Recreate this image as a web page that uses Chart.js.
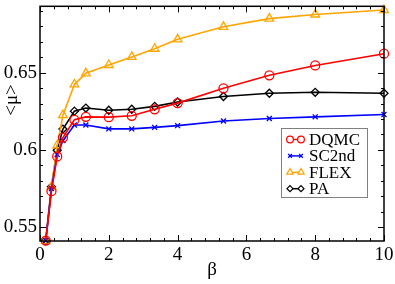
<!DOCTYPE html>
<html>
<head>
<meta charset="utf-8">
<script src="https://cdn.jsdelivr.net/npm/chart.js@4/dist/chart.umd.min.js"></script>
<style>
  html, body { margin: 0; padding: 0; background: #fff; }
  #wrap { width: 395px; height: 284px; }
</style>
</head>
<body>
<div id="wrap"><canvas id="c" width="395" height="284"></canvas></div>
<script>
// beta values and <mu> for each method
var beta  = [0.167, 0.333, 0.5, 0.667, 1, 1.333, 2, 2.667, 3.333, 4, 5.333, 6.667, 8, 10];
var dqmc  = [0.5413, 0.5733, 0.5958, 0.6080, 0.6195, 0.6214, 0.6212, 0.6221, 0.6263, 0.6303, 0.6399, 0.6483, 0.6547, 0.6623];
var sc2nd = [0.5413, 0.5750, 0.5970, 0.6060, 0.6161, 0.6161, 0.6136, 0.6136, 0.6146, 0.6157, 0.6187, 0.6203, 0.6214, 0.6229];
var flex  = [0.5413, 0.5760, 0.6030, 0.6225, 0.6424, 0.6496, 0.6550, 0.6602, 0.6655, 0.6716, 0.6797, 0.6850, 0.6877, 0.6906];
var pa    = [0.5413, 0.5761, 0.5998, 0.6135, 0.6251, 0.6271, 0.6257, 0.6263, 0.6282, 0.6310, 0.6346, 0.6367, 0.6373, 0.6367];

var xTicks = [0, 2, 4, 6, 8, 10];
var yTicks = [0.55, 0.6, 0.65];
var yLabels = ["0.55", "0.6", "0.65"];

var FONT = "'Liberation Serif', 'Times New Roman', serif";

function pts(ys) {
  var out = [];
  for (var i = 0; i < beta.length; i++) out.push({x: beta[i], y: ys[i]});
  return out;
}

var series = [
  {label: "DQMC",  data: dqmc,  color: "#ff0000", style: "circle",   r: 4.5},
  {label: "SC2nd", data: sc2nd, color: "#0000ff", style: "crossRot", r: 3.5},
  {label: "FLEX",  data: flex,  color: "#ffa500", style: "triangle", r: 5},
  {label: "PA",    data: pa,    color: "#000000", style: "rectRot",  r: 4}
];

var datasets = series.map(function (s) {
  return {
    label: s.label,
    data: pts(s.data),
    borderColor: s.color,
    backgroundColor: "rgba(0,0,0,0)",
    borderWidth: 1.6,
    pointStyle: s.style,
    pointRadius: s.r,
    pointBorderColor: s.color,
    pointBackgroundColor: "rgba(0,0,0,0)",
    pointBorderWidth: 1.3,
    tension: 0,
    clip: false
  };
});

// frame, inward ticks on all sides, axis titles, legend
var framePlugin = {
  id: "frame",
  afterDraw: function (chart) {
    var ctx = chart.ctx, a = chart.chartArea;
    var xs = chart.scales.x, ys = chart.scales.y;
    ctx.save();
    ctx.strokeStyle = "#000";
    ctx.lineWidth = 1.5;
    ctx.strokeRect(a.left, a.top, a.right - a.left, a.bottom - a.top);
    ctx.lineWidth = 1;
    ctx.beginPath();
    var v, p, len;
    for (var k = 0; k <= 25; k++) {
      v = k * 0.4;
      p = Math.round(xs.getPixelForValue(v)) + 0.5;
      len = (k % 5 === 0) ? 6 : 3;
      ctx.moveTo(p, a.bottom); ctx.lineTo(p, a.bottom - len);
      ctx.moveTo(p, a.top); ctx.lineTo(p, a.top + len);
    }
    for (var j = 55; j <= 69; j++) {
      v = j / 100;
      p = Math.round(ys.getPixelForValue(v)) + 0.5;
      len = (j % 5 === 0) ? 6 : 3;
      ctx.moveTo(a.left, p); ctx.lineTo(a.left + len, p);
      ctx.moveTo(a.right, p); ctx.lineTo(a.right - len, p);
    }
    ctx.stroke();

    // axis titles
    ctx.fillStyle = "#000";
    ctx.font = "19px " + FONT;
    ctx.textAlign = "center";
    ctx.textBaseline = "middle";
    ctx.fillText("\u03b2", 212, 270);
    ctx.save();
    ctx.translate(12, 100);
    ctx.rotate(-Math.PI / 2);
    ctx.fillText("<\u03bc>", 0, 0);
    ctx.restore();

    // legend
    var lx = 281, ly = 128, lw = 86, lh = 69;
    ctx.fillStyle = "#fff";
    ctx.fillRect(lx, ly, lw, lh);
    ctx.strokeStyle = "#808080";
    ctx.lineWidth = 1;
    ctx.strokeRect(lx + 0.5, ly + 0.5, lw, lh);
    ctx.font = "17px " + FONT;
    ctx.textAlign = "left";
    for (var i = 0; i < series.length; i++) {
      var s = series[i];
      var yy = ly + 11.5 + i * 16.4;
      ctx.strokeStyle = s.color;
      ctx.lineWidth = 1.5;
      ctx.beginPath();
      ctx.moveTo(290, yy); ctx.lineTo(301, yy);
      ctx.stroke();
      var opts = {pointStyle: s.style, radius: s.r * 0.75, borderWidth: 1.2, rotation: 0};
      ctx.lineWidth = 1.2;
      ctx.fillStyle = "#fff";
      Chart.helpers.drawPoint(ctx, opts, 290, yy);
      Chart.helpers.drawPoint(ctx, opts, 301, yy);
      ctx.fillStyle = "#000";
      ctx.fillText(s.label, 309, yy + 1);
    }
    ctx.restore();
  }
};

new Chart(document.getElementById("c"), {
  type: "line",
  data: {datasets: datasets},
  plugins: [framePlugin],
  options: {
    responsive: false,
    animation: false,
    layout: {padding: {top: 3, right: 11, left: 0, bottom: 0}},
    plugins: {legend: {display: false}, tooltip: {enabled: false}},
    scales: {
      x: {
        type: "linear", min: 0, max: 10,
        grid: {display: false, drawTicks: false},
        border: {display: false},
        afterBuildTicks: function (sc) { sc.ticks = xTicks.map(function (v) { return {value: v}; }); },
        afterFit: function (sc) { sc.height = 43; sc.paddingLeft = 0; sc.paddingRight = 0; },
        ticks: {
          autoSkip: false, maxRotation: 0, padding: 3, color: "#000",
          font: {family: FONT, size: 19},
          callback: function (v) { return String(v); }
        }
      },
      y: {
        type: "linear", min: 0.541, max: 0.693,
        grid: {display: false, drawTicks: false},
        border: {display: false},
        afterBuildTicks: function (sc) { sc.ticks = yTicks.map(function (v) { return {value: v}; }); },
        afterFit: function (sc) { sc.width = 40; sc.paddingTop = 0; sc.paddingBottom = 0; },
        ticks: {
          autoSkip: false, padding: 3, color: "#000",
          font: {family: FONT, size: 19},
          callback: function (v) {
            var i = yTicks.indexOf(v);
            return i >= 0 ? yLabels[i] : "";
          }
        }
      }
    }
  }
});
</script>
</body>
</html>
